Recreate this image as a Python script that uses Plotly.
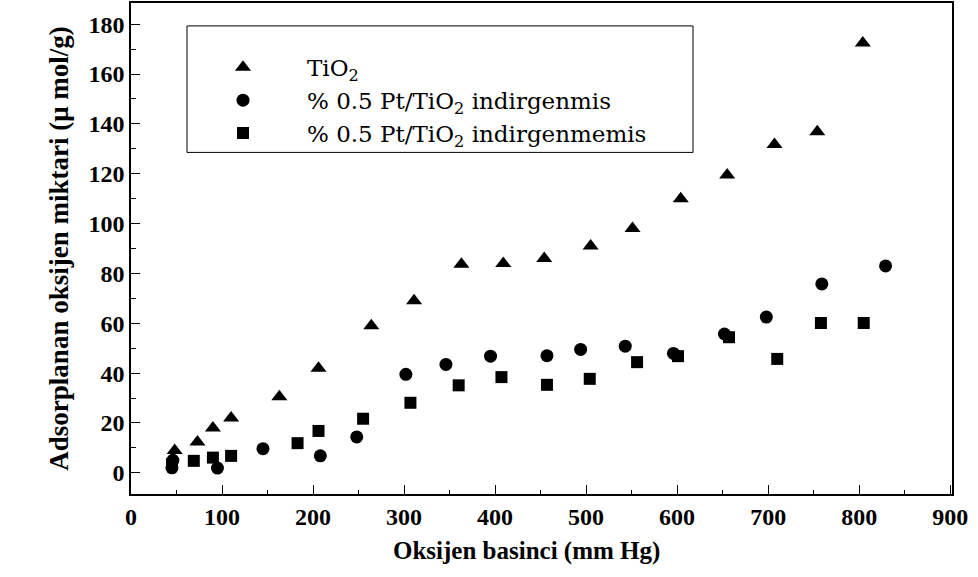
import plotly.graph_objects as go

# Oxygen pressure (mm Hg) and adsorbed oxygen (µmol/g)
tio2_x = [48, 73, 90, 110, 163, 206, 264, 311, 363, 409, 454, 505, 551, 604, 655, 707, 754, 804]
tio2_y = [9, 12.4, 18, 22, 30.5, 42, 59, 69, 83.7, 84, 86, 91, 98, 110, 119.5, 131.7, 136.8, 172.5]

red_x = [45, 46, 95, 145, 208, 248, 302, 346, 395, 457, 494, 543, 596, 652, 698, 759, 829]
red_y = [2, 5, 1.9, 9.7, 6.8, 14.4, 39.5, 43.5, 46.8, 47, 49.5, 50.8, 47.9, 55.7, 62.5, 75.8, 83]

unred_x = [45, 69, 90, 110, 183, 206, 255, 307, 360, 407, 457, 504, 556, 601, 657, 710, 758, 805]
unred_y = [3.5, 4.8, 6.1, 6.8, 11.9, 16.8, 21.7, 28.1, 35.1, 38.4, 35.3, 37.7, 44.4, 46.8, 54.4, 45.7, 60.1, 60.1]

names = ["TiO<sub>2</sub>",
         "% 0.5 Pt/TiO<sub>2</sub> indirgenmis",
         "% 0.5 Pt/TiO<sub>2</sub> indirgenmemis"]

x_ticks = [0, 100, 200, 300, 400, 500, 600, 700, 800, 900]
y_ticks = [0, 20, 40, 60, 80, 100, 120, 140, 160, 180]

x_title = "Oksijen basinci (mm Hg)"
y_title = "Adsorplanan oksijen miktari (\u03bc mol/g)"

serif = "Liberation Serif"

fig = go.Figure()
fig.add_trace(go.Scatter(x=tio2_x, y=tio2_y, mode="markers", name=names[0],
                         marker=dict(symbol="triangle-up", size=14, color="black")))
fig.add_trace(go.Scatter(x=red_x, y=red_y, mode="markers", name=names[1],
                         marker=dict(symbol="circle", size=13, color="black")))
fig.add_trace(go.Scatter(x=unred_x, y=unred_y, mode="markers", name=names[2],
                         marker=dict(symbol="square", size=12, color="black")))

axis_common = dict(showline=True, linecolor="black", linewidth=1.5, mirror=True,
                   showgrid=False, zeroline=False, ticks="inside", ticklen=9,
                   tickcolor="black", tickwidth=1.2,
                   tickfont=dict(family=serif, size=24, color="black", weight="bold"))

fig.update_xaxes(range=[0, 902], tickvals=x_ticks,
                 minor=dict(dtick=50, ticks="inside", ticklen=4, tickcolor="black"),
                 **axis_common)
fig.update_yaxes(range=[-8.5, 188.5], tickvals=y_ticks,
                 minor=dict(dtick=10, ticks="inside", ticklen=5, tickcolor="black"),
                 title=dict(text=y_title, standoff=12,
                            font=dict(family=serif, size=27, color="black", weight="bold")),
                 **axis_common)

# x-axis title placed as annotation (slightly left of centre, as in the original)
fig.add_annotation(text=x_title, xref="paper", yref="paper",
                   x=(526 - 131) / 821, y=1 - (551 - 1) / 493,
                   xanchor="center", yanchor="middle", showarrow=False,
                   font=dict(family=serif, size=25, color="black", weight="bold"))

# legend frame
fig.add_shape(type="rect", xref="paper", yref="paper",
              x0=(187 - 131) / 821, x1=(693 - 131) / 821,
              y0=1 - (151 - 1) / 493, y1=1 - (24 - 1) / 493,
              line=dict(color="black", width=1), fillcolor="rgba(0,0,0,0)", layer="above")

fig.update_layout(
    width=978, height=577,
    margin=dict(l=131, r=26, t=1, b=83),
    paper_bgcolor="white", plot_bgcolor="white",
    showlegend=True,
    legend=dict(x=(179 - 131) / 821, y=1 - (44 - 1) / 493, xanchor="left", yanchor="top",
                bgcolor="rgba(0,0,0,0)", borderwidth=0, itemwidth=118,
                font=dict(family="DejaVu Serif", size=23, color="black")),
)

fig.write_html("out.html")
